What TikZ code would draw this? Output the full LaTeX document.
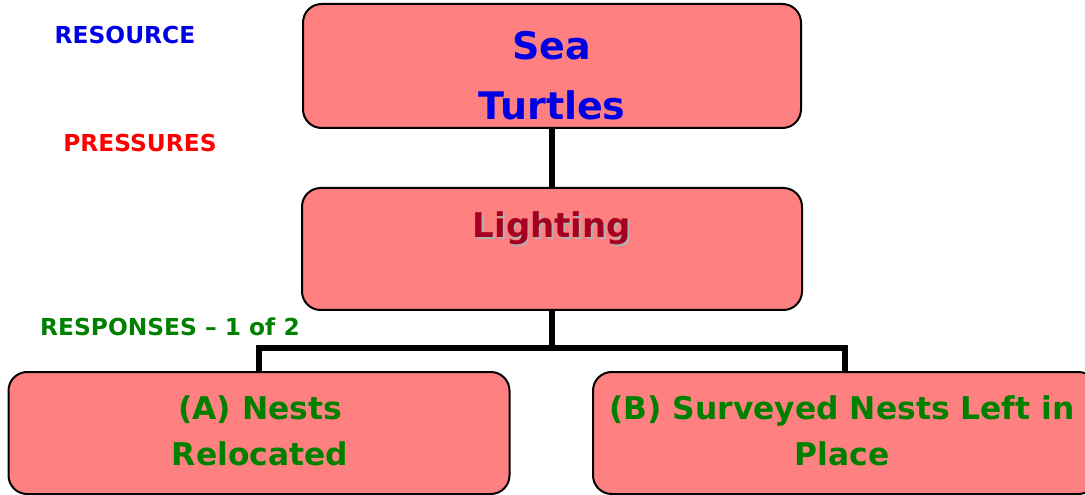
\documentclass[tikz,border=0pt]{standalone}
\usepackage{fontspec}
\setmainfont{DejaVu Sans}
\definecolor{boxfill}{HTML}{FF8080}
\definecolor{resblue}{HTML}{0000E6}
\definecolor{prsred}{HTML}{FF0000}
\definecolor{rspgreen}{HTML}{008000}
\definecolor{lightred}{HTML}{A50021}
\definecolor{shadowgray}{HTML}{B0B0B0}
\begin{document}
\begin{tikzpicture}[x=0.75pt,y=-0.75pt,
  box/.style={draw=black,line width=1.5pt,fill=boxfill,rounded corners=14pt,inner sep=0pt},
  conn/.style={draw=black,line width=4pt},
  side/.style={font=\fontsize{17.5}{20}\selectfont\bfseries,anchor=center},
  btext/.style={align=center,font=\fontsize{23.5}{34.5}\selectfont\bfseries,text=rspgreen}]
\useasboundingbox (0,0) rectangle (1085,495);
\clip (0,0) rectangle (1085,495);
\node[box,minimum width=373.5pt,minimum height=93pt] (top) at (552,66) {};
\node[box,minimum width=375pt,minimum height=91.5pt] (light) at (552,249) {};
\node[box,minimum width=375.75pt,minimum height=91.5pt] (A) at (259,433) {};
\node[box,minimum width=378pt,minimum height=91.5pt] (B) at (845,433) {};
\coordinate (split) at (552,348);
\draw[conn] (top.south) -- (light.north);
\draw[conn] (light.south) -- (split);
\draw[conn] (A.north) |- (split) -| (B.north);
\node[align=center,font=\fontsize{28.5}{45}\selectfont\bfseries,text=resblue] (toptext) at (552,76) {Sea\\Turtles};
\node[font=\fontsize{25.5}{32}\selectfont\bfseries,text=shadowgray] (lightshadow) at (553.5,230) {Lighting};
\node[font=\fontsize{25.5}{32}\selectfont\bfseries,text=lightred] (lighttext) at (552,228) {Lighting};
\node[btext] (Atext) at (260,431) {(A) Nests\\Relocated};
\node[btext] (Btext) at (842,431) {(B) Surveyed Nests Left in\\Place};
\node[side,text=resblue] (resource) at (125,35) {RESOURCE};
\node[side,text=prsred] (pressures) at (140,143) {PRESSURES};
\node[side,text=rspgreen] (responses) at (170,327) {RESPONSES – 1 of 2};
\end{tikzpicture}
\end{document}
